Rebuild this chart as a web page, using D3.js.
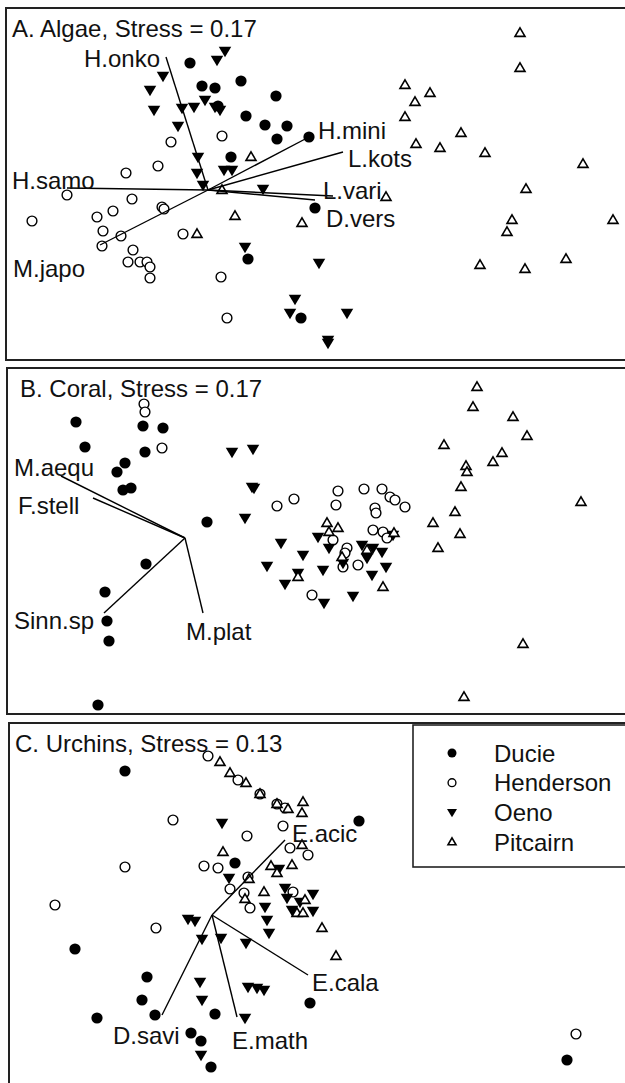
<!DOCTYPE html>
<html><head><meta charset="utf-8">
<script src="https://cdn.jsdelivr.net/npm/d3@7"></script>
<style>
html,body{margin:0;padding:0;background:#fff;}
svg{display:block;}
text{font-family:"Liberation Sans",Arial,Helvetica,sans-serif;fill:#111;}
</style></head>
<body>
<svg id="chart" width="625" height="1083"></svg>
<script>
// ---------------- DATA (NMDS coordinates) ----------------
const islands = ["Ducie", "Henderson", "Oeno", "Pitcairn"];
const panelTitles = ["A. Algae, Stress = 0.17", "B. Coral, Stress = 0.17", "C. Urchins, Stress = 0.13"];

// Panel A – Algae
const algaeDucie = [[-0.18,1.27],[-0.06,1.04],[0.07,1.02],[0.33,1.09],[0.68,0.94],[0.10,0.84],[0.38,0.74],[0.57,0.65],[0.79,0.64],[0.69,0.51],[1.01,0.53],[0.23,0.33],[1.07,-0.18],[0.40,-0.69],[0.93,-1.28]];
const algaeHenderson = [[0.14,0.54],[-0.37,0.48],[-0.50,0.24],[-0.82,0.17],[-1.41,-0.05],[-0.76,-0.09],[-1.76,-0.31],[-0.95,-0.21],[-1.11,-0.27],[-0.46,-0.17],[-0.44,-0.19],[-1.05,-0.41],[-0.87,-0.46],[-1.06,-0.56],[-0.25,-0.44],[-0.75,-0.60],[-0.80,-0.72],[-0.68,-0.72],[-0.61,-0.72],[-0.58,-0.77],[-0.58,-0.88],[0.13,-0.87],[0.19,-1.28]];
const algaeOeno = [[0.17,1.39],[0.09,1.30],[-0.45,1.14],[-0.58,1.00],[-0.54,0.80],[-0.26,0.82],[-0.14,0.83],[-0.03,0.90],[0.07,0.83],[0.12,0.80],[-0.30,0.64],[-0.10,0.33],[-0.11,0.17],[-0.05,0.05],[0.16,0.20],[0.24,0.20],[0.55,0.01],[0.37,-0.57],[1.11,-0.73],[0.87,-1.09],[0.82,-1.23],[1.39,-1.23],[1.20,-1.50],[1.20,-1.53]];
const algaePitcairn = [[0.43,0.33],[0.14,0.00],[0.27,-0.26],[0.94,-0.33],[-0.11,-0.44],[3.12,1.57],[3.12,1.22],[1.97,1.05],[2.22,0.97],[2.07,0.88],[1.97,0.73],[2.53,0.57],[2.08,0.46],[2.32,0.42],[2.77,0.37],[3.75,0.26],[3.18,0.01],[1.78,-0.07],[3.04,-0.30],[2.99,-0.42],[4.05,-0.30],[2.72,-0.75],[3.17,-0.79],[3.58,-0.69]];
const algaeVectors = ["H.onko","H.mini","L.kots","L.vari","D.vers","H.samo","M.japo"];
const algaeVectorEnds = [[-0.42,1.33],[1.01,0.53],[1.35,0.38],[1.25,-0.06],[1.07,-0.10],[-1.41,0.02],[-1.08,-0.55]];

// Panel B – Coral
const coralDucie = [[-1.09,1.16],[-1.00,0.91],[-0.42,1.12],[-0.22,1.10],[-0.40,0.86],[-0.60,0.75],[-0.68,0.66],[-0.62,0.48],[-0.54,0.50],[0.22,0.16],[-0.39,-0.26],[-0.80,-0.54],[-0.78,-0.83],[-0.76,-1.03],[-0.87,-1.67]];
const coralHenderson = [[-0.41,1.34],[-0.40,1.26],[-0.23,0.90],[0.92,0.32],[1.09,0.39],[1.53,0.47],[1.51,0.33],[1.79,0.49],[1.97,0.49],[2.05,0.41],[2.10,0.38],[2.20,0.31],[1.90,0.30],[1.91,0.25],[1.88,0.08],[1.98,0.06],[2.02,0.00],[1.48,-0.02],[1.62,-0.10],[1.60,-0.15],[1.58,-0.29],[1.73,-0.27],[1.27,-0.57]];
const coralOeno = [[0.47,0.86],[0.68,0.89],[0.67,0.51],[0.69,0.50],[0.60,0.20],[0.96,-0.05],[1.18,-0.17],[0.82,-0.28],[1.00,-0.46],[1.38,-0.32],[1.33,0.01],[1.44,-0.10],[1.39,-0.65],[1.68,-0.58],[1.77,-0.07],[1.82,-0.20],[1.88,-0.10],[1.97,-0.14],[2.01,-0.29],[1.87,-0.37],[2.08,0.03],[1.13,-0.35],[1.58,-0.25]];
const coralPitcairn = [[1.42,0.15],[1.53,0.10],[1.44,0.06],[1.82,-0.12],[1.57,-0.19],[2.09,0.05],[1.98,-0.49],[1.13,-0.39],[2.48,0.15],[2.53,-0.10],[2.92,1.51],[2.88,1.31],[3.28,1.21],[3.42,1.02],[2.59,0.93],[3.17,0.85],[3.08,0.76],[2.81,0.72],[2.82,0.66],[2.76,0.51],[3.96,0.36],[2.70,0.26],[2.75,0.04],[3.38,-1.06],[2.79,-1.59]];
const coralVectors = ["M.aequ","F.stell","Sinn.sp","M.plat"];
const coralVectorEnds = [[-1.24,0.62],[-0.92,0.40],[-0.81,-0.75],[0.18,-0.75]];

// Panel C – Urchins
const urchinDucie = [[-0.87,1.44],[0.23,0.52],[-1.37,-0.34],[-0.65,-0.62],[-0.70,-0.85],[-1.15,-1.03],[-0.57,-1.00],[0.03,-0.99],[0.98,-0.88],[-0.21,-1.18],[-0.11,-1.26],[-0.01,-1.52],[1.47,0.94],[3.55,-1.45]];
const urchinHenderson = [[-0.04,1.59],[0.26,1.35],[0.48,1.21],[0.65,1.11],[0.73,1.07],[-0.39,0.95],[0.35,0.79],[0.71,0.89],[0.78,0.67],[0.96,0.60],[-0.87,0.48],[-0.08,0.49],[0.06,0.47],[0.36,0.38],[0.18,0.26],[0.32,0.22],[0.38,0.07],[0.81,0.23],[-1.57,0.10],[-0.56,-0.13],[3.64,-1.19]];
const urchinOeno = [[0.10,0.92],[0.67,0.46],[0.17,0.37],[0.73,0.27],[0.75,0.17],[1.01,0.21],[0.53,0.08],[0.80,0.05],[1.01,0.04],[0.55,-0.05],[0.57,-0.18],[-0.24,-0.04],[-0.17,-0.06],[-0.10,-0.24],[0.09,-0.23],[0.34,-0.28],[-0.12,-0.67],[-0.10,-0.85],[0.36,-0.72],[0.45,-0.73],[0.52,-0.75],[0.33,-1.03],[-0.11,-1.40],[0.88,0.13]];
const urchinPitcairn = [[0.08,1.53],[0.18,1.42],[0.34,1.32],[0.48,1.21],[0.65,1.11],[0.76,1.06],[0.91,1.13],[0.90,1.02],[0.11,0.63],[0.90,0.70],[0.59,0.49],[0.80,0.50],[0.65,0.42],[0.37,0.36],[0.52,0.23],[0.33,0.16],[0.93,0.15],[0.85,0.02],[0.91,0.02],[1.10,-0.13],[1.24,-0.41]];
const urchinVectors = ["E.acic","E.cala","E.math","D.savi"];
const urchinVectorEnds = [[0.73,0.75],[0.96,-0.60],[0.25,-1.02],[-0.50,-1.00]];

// ---------------- LAYOUT ----------------
const panels = [
  {box:[6,8,632,360],   xDom:[-2.02,4.24], yDom:[1.82,-1.70],
   series:[algaeDucie,algaeHenderson,algaeOeno,algaePitcairn],
   vecNames:algaeVectors, vecEnds:algaeVectorEnds,
   titlePos:[12,28],
   lab:[{dx:-6,dy:1,a:"end"},{dx:9,dy:-7},{dx:5,dy:6},{dx:-10,dy:-6},{dx:11,dy:18},{dx:-55,dy:-8},{dx:-87,dy:23}]},
  {box:[7,368,632,714], xDom:[-1.78,4.47], yDom:[1.70,-1.76],
   series:[coralDucie,coralHenderson,coralOeno,coralPitcairn],
   vecNames:coralVectors, vecEnds:coralVectorEnds,
   titlePos:[20,388],
   lab:[{dx:-47,dy:-9},{dx:-75,dy:7},{dx:-90,dy:7},{dx:-17,dy:18}]},
  {box:[9,723,632,1100],xDom:[-2.03,4.20], yDom:[1.92,-1.85],
   series:[urchinDucie,urchinHenderson,urchinOeno,urchinPitcairn],
   vecNames:urchinVectors, vecEnds:urchinVectorEnds,
   titlePos:[15,743],
   lab:[{dx:7,dy:-7},{dx:4,dy:7},{dx:-5,dy:23},{dx:-49,dy:20}]}
];
const FONT = 24;

const svg = d3.select("#chart");

function tri(w,h,down){
  const s = down ? -1 : 1;
  return `M0,${-s*h*0.6}L${w/2},${s*h*0.4}L${-w/2},${s*h*0.4}Z`;
}
function drawMarker(g, kind, big){
  const k = big ? 1 : 0.8;
  if(kind===0) g.append("circle").attr("r",5.6*k).attr("fill","#000");
  else if(kind===1) g.append("circle").attr("r",4.9*k).attr("fill","#fff").attr("stroke","#000").attr("stroke-width",1.4);
  else if(kind===2) g.append("path").attr("d",tri(12.5*k,10.5*k,true)).attr("fill","#000");
  else g.append("path").attr("d",tri(10*k,8.5*k,false)).attr("fill","#fff").attr("stroke","#000").attr("stroke-width",1.6).attr("stroke-linejoin","miter");
}

panels.forEach((p,pi)=>{
  const [x0,y0,x1,y1] = p.box;
  const x = d3.scaleLinear().domain(p.xDom).range([x0,x1]);
  const y = d3.scaleLinear().domain(p.yDom).range([y0,y1]);
  const g = svg.append("g");
  const clipId = "clip"+pi;
  svg.append("clipPath").attr("id",clipId).append("rect").attr("x",x0).attr("y",y0).attr("width",x1-x0).attr("height",y1-y0);
  const inner = g.append("g").attr("clip-path",`url(#${clipId})`);

  p.series.forEach((pts,si)=>{
    inner.selectAll(null).data(pts).enter().append("g")
      .attr("transform",d=>`translate(${x(d[0])},${y(d[1])})`)
      .each(function(){ drawMarker(d3.select(this), si, true); });
  });

  // vectors
  inner.selectAll(null).data(p.vecEnds).enter().append("line")
    .attr("x1",x(0)).attr("y1",y(0))
    .attr("x2",d=>x(d[0])).attr("y2",d=>y(d[1]))
    .attr("stroke","#000").attr("stroke-width",1.4);
  inner.selectAll(null).data(p.vecEnds).enter().append("text")
    .attr("x",(d,i)=>x(d[0])+p.lab[i].dx)
    .attr("y",(d,i)=>y(d[1])+p.lab[i].dy)
    .attr("dy","0.36em")
    .attr("text-anchor",(d,i)=>p.lab[i].a||"start")
    .attr("font-size",FONT)
    .text((d,i)=>p.vecNames[i]);

  // title
  g.append("text").attr("x",p.titlePos[0]).attr("y",p.titlePos[1]).attr("dy","0.36em")
    .attr("font-size",FONT).text(panelTitles[pi]);

  // frame
  g.append("rect").attr("x",x0).attr("y",y0).attr("width",x1-x0).attr("height",y1-y0)
    .attr("fill","none").attr("stroke","#222").attr("stroke-width",2);
});

// legend (inside panel C)
const leg = svg.append("g");
leg.append("rect").attr("x",413).attr("y",725).attr("width",220).attr("height",142)
  .attr("fill","#fff").attr("stroke","#222").attr("stroke-width",1.6);
const legY = d3.scalePoint().domain(islands).range([753,842]);
islands.forEach((name,i)=>{
  const row = leg.append("g").attr("transform",`translate(452,${legY(name)})`);
  drawMarker(row, i, false);
  leg.append("text").attr("x",494).attr("y",legY(name)).attr("dy","0.36em")
    .attr("font-size",FONT).text(name);
});
</script>
</body></html>
